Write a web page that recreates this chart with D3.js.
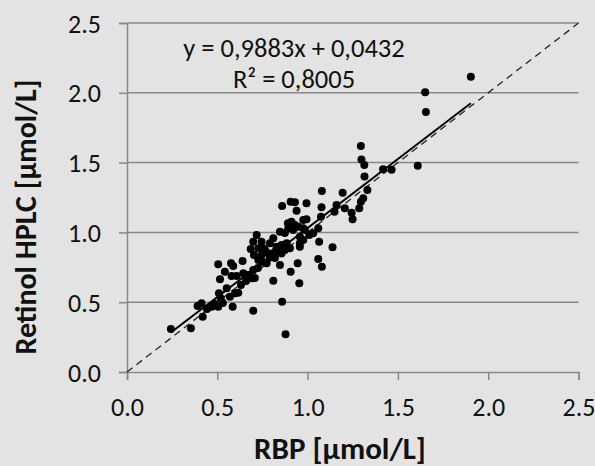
<!DOCTYPE html>
<html>
<head>
<meta charset="utf-8">
<script src="https://cdn.jsdelivr.net/npm/d3@7"></script>
<style>
  body { margin: 0; background: #e3e3e3; }
  svg { display: block; font-family: Carlito, Calibri, "Open Sans", sans-serif; }
</style>
</head>
<body>
<svg width="595" height="466"></svg>
<script>
// RBP (x) vs Retinol HPLC (y)
var rbp = [
  0.243, 0.354, 0.419, 0.391, 0.413, 0.469, 0.487, 0.505, 0.509, 0.519,
  0.552, 0.585, 0.570, 0.598, 0.616, 0.515, 0.505, 0.542, 0.576, 0.588,
  0.579, 0.607, 0.640, 0.644, 0.671, 0.690, 0.699, 0.685, 0.699, 0.718,
  0.745, 0.764, 0.703, 0.727, 0.699, 0.708, 0.754, 0.791, 0.810, 0.847,
  0.773, 0.847, 0.810, 0.859, 0.878, 0.906, 0.945, 0.954, 0.859, 0.906,
  0.930, 0.939, 0.994, 0.891, 0.911, 0.930, 0.893, 0.920, 0.948, 0.976,
  0.994, 0.957, 0.976, 0.957, 0.727, 0.828, 0.856, 0.884, 0.745, 0.782,
  0.819, 0.856, 0.874, 0.902, 0.791, 0.754, 0.819, 1.009, 1.031, 1.064,
  1.138, 1.059, 1.079, 1.059, 1.079, 1.194, 1.077, 1.160, 1.149, 1.206,
  1.244, 1.249, 1.286, 1.308, 1.295, 1.331, 1.074, 1.295, 1.298, 1.314,
  1.315, 1.418, 1.465, 1.610, 1.651, 1.655, 1.904, 0.976, 0.957, 0.659,
  0.631, 0.443, 0.531, 0.725, 0.874, 0.985
];
var retinol = [
  0.308, 0.313, 0.396, 0.473, 0.492, 0.468, 0.487, 0.468, 0.564, 0.528,
  0.600, 0.468, 0.539, 0.564, 0.568, 0.664, 0.771, 0.718, 0.779, 0.759,
  0.688, 0.688, 0.795, 0.707, 0.695, 0.671, 0.439, 0.881, 0.933, 0.981,
  0.933, 0.874, 0.838, 0.802, 0.731, 0.673, 0.886, 0.922, 0.958, 1.005,
  0.779, 0.766, 0.654, 0.504, 0.270, 0.718, 0.779, 0.635, 1.189, 1.220,
  1.216, 1.155, 1.208, 1.065, 1.077, 1.053, 1.029, 1.017, 1.041, 1.089,
  1.094, 0.922, 0.946, 0.898, 0.886, 0.898, 0.910, 0.922, 0.838, 0.850,
  0.862, 0.850, 0.874, 0.886, 0.824, 0.788, 0.817, 0.981, 0.994, 0.933,
  0.893, 0.809, 0.754, 1.029, 1.297, 1.284, 1.180, 1.196, 1.148, 1.173,
  1.141, 1.094, 1.173, 1.244, 1.220, 1.304, 1.112, 1.619, 1.522, 1.483,
  1.400, 1.453, 1.448, 1.478, 2.004, 1.862, 2.115, 1.029, 0.969, 0.652,
  0.623, 0.451, 0.494, 0.745, 0.996, 1.017
];
var ticks = [0, 0.5, 1.0, 1.5, 2.0, 2.5];
var slope = 0.9883, intercept = 0.0432;
var equationLines = ["y = 0,9883x + 0,0432", "R\u00b2 = 0,8005"];
var xTitle = "RBP [\u00b5mol/L]";
var yTitle = "Retinol HPLC [\u00b5mol/L]";

var svg = d3.select("svg");
var plotLeft = 127, plotRight = 578.5, plotTop = 23, plotBottom = 372;

var x = d3.scaleLinear().domain([0, 2.5]).range([plotLeft, plotRight]);
var y = d3.scaleLinear().domain([0, 2.5]).range([plotBottom, plotTop]);

var points = rbp.map(function (d, i) {
  return { x: d, y: retinol[i] };
});

// horizontal grid
svg.append("g")
  .selectAll("line")
  .data(ticks.slice(1))
  .enter()
  .append("line")
  .attr("x1", plotLeft)
  .attr("x2", plotRight)
  .attr("y1", function (d) { return y(d); })
  .attr("y2", function (d) { return y(d); })
  .attr("stroke", "#888")
  .attr("stroke-width", 1.5);

// axes
var xAxis = svg.append("g")
  .attr("transform", "translate(0," + plotBottom + ")")
  .call(d3.axisBottom(x).tickValues(ticks).tickFormat(d3.format(".1f")).tickSizeOuter(0).tickSize(8));
var yAxis = svg.append("g")
  .attr("transform", "translate(" + plotLeft + ",0)")
  .call(d3.axisLeft(y).tickValues(ticks).tickFormat(d3.format(".1f")).tickSizeOuter(0).tickSize(8));

[xAxis, yAxis].forEach(function (a) {
  a.select(".domain").attr("stroke", "#888").attr("stroke-width", 1.5);
  a.selectAll(".tick line").attr("stroke", "#888").attr("stroke-width", 1.5);
  a.selectAll("text")
    .attr("fill", "#111")
    .style("font-size", "26px")
    .style("font-family", "Carlito, Calibri, 'Open Sans', sans-serif");
});
xAxis.selectAll("text").attr("y", 35).attr("dy", "0.35em");
yAxis.selectAll("text").attr("x", -26).attr("dy", "0.35em");

// 1:1 line
svg.append("line")
  .attr("x1", x(0)).attr("y1", y(0))
  .attr("x2", x(2.5)).attr("y2", y(2.5))
  .attr("stroke", "#222")
  .attr("stroke-width", 1.3)
  .attr("stroke-dasharray", "7,5");

// points
svg.append("g")
  .selectAll("circle")
  .data(points)
  .enter()
  .append("circle")
  .attr("cx", function (d) { return x(d.x); })
  .attr("cy", function (d) { return y(d.y); })
  .attr("r", 4)
  .attr("fill", "#000");

// trend line over the data range
var xr = d3.extent(rbp);
svg.append("line")
  .attr("x1", x(xr[0])).attr("y1", y(slope * xr[0] + intercept))
  .attr("x2", x(xr[1])).attr("y2", y(slope * xr[1] + intercept))
  .attr("stroke", "#000")
  .attr("stroke-width", 2);

// equation
svg.append("g")
  .selectAll("text")
  .data(equationLines)
  .enter()
  .append("text")
  .attr("x", 294)
  .attr("y", function (d, i) { return 57 + i * 31; })
  .attr("text-anchor", "middle")
  .style("font-size", "26.5px")
  .attr("fill", "#111")
  .text(function (d) { return d; });

// axis titles
svg.append("text")
  .attr("x", 340)
  .attr("y", 459)
  .attr("text-anchor", "middle")
  .style("font-size", "31px")
  .style("font-weight", "bold")
  .attr("fill", "#111")
  .text(xTitle);

svg.append("text")
  .attr("transform", "translate(36,217) rotate(-90)")
  .attr("text-anchor", "middle")
  .style("font-size", "30px")
  .style("font-weight", "bold")
  .attr("fill", "#111")
  .text(yTitle);
</script>
</body>
</html>
